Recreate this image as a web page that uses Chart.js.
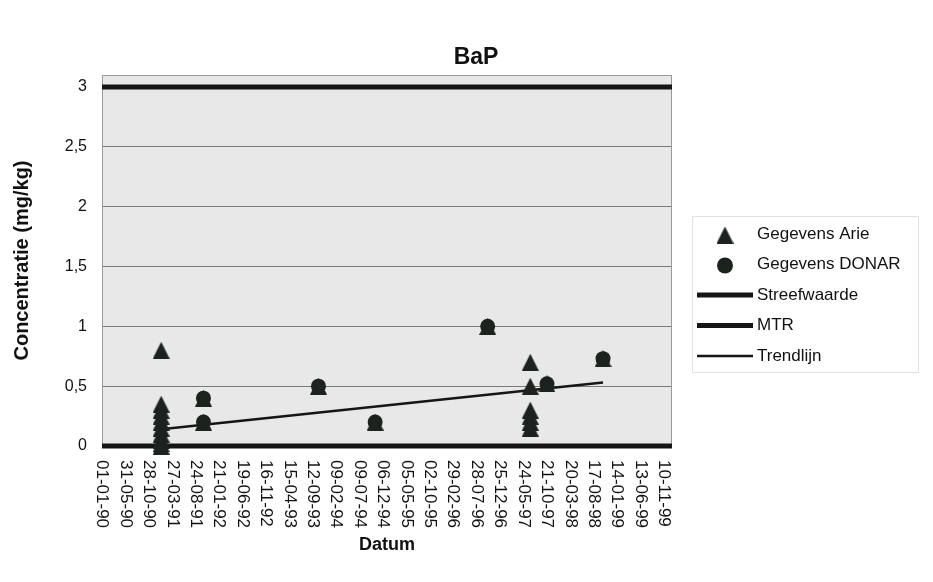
<!DOCTYPE html>
<html>
<head>
<meta charset="utf-8">
<title>BaP</title>
<script src="https://cdn.jsdelivr.net/npm/chart.js@4.4.1/dist/chart.umd.min.js"></script>
<style>
  html, body { margin: 0; padding: 0; background: #ffffff; }
  canvas { display: block; }
</style>
</head>
<body>
<canvas id="chart" width="933" height="582"></canvas>
<script>
// ---- data -------------------------------------------------------------
const X_MIN_DATE = '01-01-90';
const X_MAX_DATE = '01-01-00';
const X_TICK_LABELS = [
  '01-01-90', '31-05-90', '28-10-90', '27-03-91', '24-08-91', '21-01-92',
  '19-06-92', '16-11-92', '15-04-93', '12-09-93', '09-02-94', '09-07-94',
  '06-12-94', '05-05-95', '02-10-95', '29-02-96', '28-07-96', '25-12-96',
  '24-05-97', '21-10-97', '20-03-98', '17-08-98', '14-01-99', '13-06-99',
  '10-11-99'
];
const Y_TICK_LABELS = ['0', '0,5', '1', '1,5', '2', '2,5', '3'];
const Y_MAX = 3.1;

// Gegevens Arie (triangles)
const ARIE_DATES = [
  '15-01-91', '15-01-91', '15-01-91', '15-01-91', '15-01-91', '15-01-91',
  '15-01-91', '15-01-91', '15-01-91', '15-01-91',
  '13-10-91', '13-10-91', '19-10-93', '17-10-94', '07-10-96',
  '07-07-97', '07-07-97', '07-07-97', '07-07-97', '07-07-97', '07-07-97',
  '22-10-97', '16-10-98'
];
const ARIE_VALUES = [
  0.8, 0.35, 0.3, 0.25, 0.2, 0.15,
  0.1, 0.05, 0.02, 0,
  0.4, 0.2, 0.5, 0.2, 1.0,
  0.7, 0.5, 0.3, 0.25, 0.2, 0.15,
  0.52, 0.73
];

// Gegevens DONAR (circles)
const DONAR_DATES = ['13-10-91', '13-10-91', '19-10-93', '17-10-94', '07-10-96', '22-10-97', '16-10-98'];
const DONAR_VALUES = [0.4, 0.2, 0.5, 0.2, 1.0, 0.52, 0.73];

const STREEFWAARDE = 0;
const MTR = 3;

const TREND_DATES = ['15-01-91', '16-10-98'];
const TREND_VALUES = [0.14, 0.53];

// ---- helpers ----------------------------------------------------------
function dateUTC(s) {
  const [d, m, y] = s.split('-').map(Number);
  const year = y < 50 ? 2000 + y : 1900 + y;
  return Date.UTC(year, m - 1, d);
}
const ORIGIN = dateUTC(X_MIN_DATE);
function toDays(s) { return Math.round((dateUTC(s) - ORIGIN) / 86400000); }

const X_MAX = toDays(X_MAX_DATE);
const X_TICK_VALUES = X_TICK_LABELS.map(toDays);
const Y_TICK_VALUES = Y_TICK_LABELS.map(l => parseFloat(l.replace(',', '.')));

function points(dates, values) {
  return dates.map((d, i) => ({ x: toDays(d), y: values[i] }));
}

const INK = '#1c231f';
const LINE_INK = '#161616';
const FONT = '"Liberation Sans", Arial, sans-serif';

// triangle marker with apex at the top and the base on the bottom edge
function makeTriangle(size, color) {
  const c = document.createElement('canvas');
  c.width = size; c.height = size;
  const g = c.getContext('2d');
  g.fillStyle = color;
  g.beginPath();
  g.moveTo(size / 2, 0);
  g.lineTo(size, size);
  g.lineTo(0, size);
  g.closePath();
  g.fill();
  return c;
}
const TRIANGLE = makeTriangle(17, INK);

// ---- decorations: plot panel, title, rotated date labels, legend -------
const decorations = {
  id: 'decorations',
  beforeDraw(chart) {
    const { ctx, chartArea: a } = chart;
    ctx.save();
    ctx.fillStyle = '#ffffff';
    ctx.fillRect(0, 0, chart.width, chart.height);
    ctx.fillStyle = '#e8e8e8';
    ctx.fillRect(a.left, a.top, a.right - a.left, a.bottom - a.top);
    ctx.restore();
  },
  beforeDatasetsDraw(chart) {
    const { ctx, chartArea: a } = chart;
    ctx.save();
    ctx.strokeStyle = '#9a9a9a';
    ctx.lineWidth = 1;
    ctx.strokeRect(a.left + 0.5, a.top + 0.5, a.right - a.left - 1, a.bottom - a.top - 1);
    ctx.restore();
  },
  afterDraw(chart) {
    const { ctx } = chart;
    const xs = chart.scales.x;
    ctx.save();

    // title
    ctx.fillStyle = '#111111';
    ctx.font = 'bold 23px ' + FONT;
    ctx.textAlign = 'center';
    ctx.textBaseline = 'middle';
    ctx.fillText('BaP', 476, 58);

    // date labels, reading top to bottom
    ctx.font = '17px ' + FONT;
    ctx.textAlign = 'left';
    ctx.textBaseline = 'middle';
    xs.ticks.forEach((t, i) => {
      const px = xs.getPixelForValue(t.value);
      ctx.save();
      ctx.translate(px, xs.top + 14);
      ctx.rotate(Math.PI / 2);
      ctx.fillText(X_TICK_LABELS[i], 0, 0);
      ctx.restore();
    });

    // legend
    ctx.strokeStyle = '#e2e2e2';
    ctx.lineWidth = 1;
    ctx.strokeRect(692.5, 216.5, 226, 156);
    const rows = [234, 264.5, 295, 325.5, 356];
    const ds = chart.data.datasets;
    ctx.font = '17px ' + FONT;
    ctx.fillStyle = '#111111';
    ds.forEach((d, i) => {
      const y = rows[i];
      if (d.showLine) {
        ctx.strokeStyle = d.borderColor;
        ctx.lineWidth = d.borderWidth;
        ctx.beginPath();
        ctx.moveTo(697, y);
        ctx.lineTo(753, y);
        ctx.stroke();
      } else if (d.pointStyle === 'circle') {
        ctx.fillStyle = d.backgroundColor;
        ctx.beginPath();
        ctx.arc(725, y + 1, 8, 0, Math.PI * 2);
        ctx.fill();
      } else {
        ctx.drawImage(d.pointStyle, 725 - 8.5, y - 7.5);
      }
      ctx.fillStyle = '#111111';
      ctx.fillText(d.label, 757, y);
    });
    ctx.restore();
  }
};

// ---- chart ------------------------------------------------------------
new Chart(document.getElementById('chart'), {
  type: 'scatter',
  data: {
    datasets: [
      {
        label: 'Gegevens Arie',
        data: points(ARIE_DATES, ARIE_VALUES),
        pointStyle: TRIANGLE,
        pointRadius: 8.5,
        backgroundColor: INK,
        borderWidth: 0,
        showLine: false,
        clip: false
      },
      {
        label: 'Gegevens DONAR',
        data: points(DONAR_DATES, DONAR_VALUES),
        pointStyle: 'circle',
        pointRadius: 7.5,
        backgroundColor: INK,
        borderWidth: 0,
        showLine: false,
        clip: false
      },
      {
        label: 'Streefwaarde',
        data: [{ x: 0, y: STREEFWAARDE }, { x: X_MAX, y: STREEFWAARDE }],
        showLine: true,
        borderColor: LINE_INK,
        borderWidth: 5,
        pointRadius: 0,
        fill: false,
        clip: false
      },
      {
        label: 'MTR',
        data: [{ x: 0, y: MTR }, { x: X_MAX, y: MTR }],
        showLine: true,
        borderColor: LINE_INK,
        borderWidth: 5,
        pointRadius: 0,
        fill: false,
        clip: false
      },
      {
        label: 'Trendlijn',
        data: points(TREND_DATES, TREND_VALUES),
        showLine: true,
        borderColor: LINE_INK,
        borderWidth: 2.5,
        pointRadius: 0,
        fill: false,
        clip: false
      }
    ]
  },
  options: {
    responsive: false,
    animation: false,
    devicePixelRatio: 1,
    events: [],
    layout: { padding: { left: 0, top: 75, right: 261, bottom: 0 } },
    plugins: {
      legend: { display: false },
      tooltip: { enabled: false },
      title: { display: false }
    },
    scales: {
      x: {
        type: 'linear',
        min: 0,
        max: X_MAX,
        grid: { display: false },
        border: { display: false },
        ticks: { display: false },
        afterBuildTicks(scale) { scale.ticks = X_TICK_VALUES.map(v => ({ value: v })); },
        afterFit(scale) { scale.height = 136; },
        title: {
          display: true,
          text: 'Datum',
          color: '#111111',
          font: { family: FONT, size: 18, weight: 'bold' },
          padding: { top: 0, bottom: 26 }
        }
      },
      y: {
        type: 'linear',
        min: 0,
        max: Y_MAX,
        grid: { color: '#7a7a7a', lineWidth: 1, drawTicks: false },
        border: { display: false },
        ticks: {
          color: '#111111',
          font: { family: FONT, size: 16 },
          padding: 15,
          callback: (v) => {
            const i = Y_TICK_VALUES.indexOf(v);
            return i >= 0 ? Y_TICK_LABELS[i] : '';
          }
        },
        afterBuildTicks(scale) { scale.ticks = Y_TICK_VALUES.map(v => ({ value: v })); },
        afterFit(scale) { scale.width = 102; },
        title: {
          display: true,
          text: 'Concentratie (mg/kg)',
          color: '#111111',
          font: { family: FONT, size: 20, weight: 'bold' },
          padding: { top: 10, bottom: 0 }
        }
      }
    }
  },
  plugins: [decorations]
});
</script>
</body>
</html>
